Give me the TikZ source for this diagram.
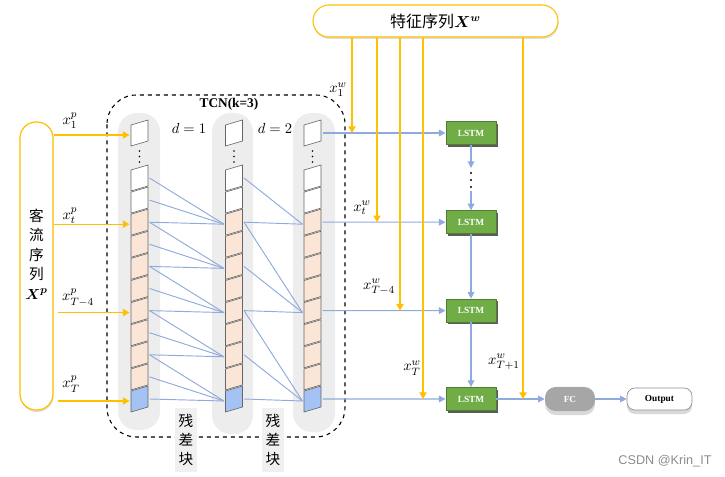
\documentclass[tikz,border=0pt]{standalone}
\usepackage{amsmath}
\usepackage{bm}
\usepackage{fontspec}
\setmainfont{Liberation Serif}
\setsansfont{Liberation Sans}
\newfontfamily\cjk{Noto Sans CJK SC}
\usetikzlibrary{arrows.meta,shadows,calc}
\definecolor{gold}{HTML}{FFC000}
\definecolor{lblue}{HTML}{8FAADC}
\definecolor{peach}{HTML}{FBE5D6}
\definecolor{cellblue}{HTML}{A4C2F4}
\definecolor{lstmgreen}{HTML}{70AD47}
\definecolor{lstmborder}{HTML}{507E32}
\definecolor{fcgray}{HTML}{A6A6A6}
\newcommand{\tcncell}[4]{%
  \filldraw[cellsty, fill=#3] ({#1-8.5},{#2-8}) -- ({#1+8.5},{#2-13}) -- ({#1+8.5},{#2+8}) -- ({#1-8.5},{#2+13}) -- cycle;
  \coordinate (#4-L) at ({#1-10},{#2+2});
  \coordinate (#4-R) at ({#1+10},{#2});
}
\begin{document}
\begin{tikzpicture}[x=0.75pt,y=-0.75pt,
  every node/.style={inner sep=0pt},
  lab/.style={font=\fontsize{11}{13}\selectfont},
  conn/.style={draw=lblue, line width=0.7pt},
  barrow/.style={draw=lblue, line width=0.8pt, -{Triangle[width=5pt,length=5pt]}},
  yarrow/.style={draw=gold, line width=0.9pt, -{Triangle[width=5.5pt,length=5pt]}},
  cellsty/.style={draw=black!60, line width=0.45pt},
  colbg/.style={fill=black!7, rounded corners=14pt},
  pill/.style={draw=gold, line width=0.9pt, fill=white, rounded corners=12pt,
    drop shadow={shadow xshift=0.4pt, shadow yshift=-1.5pt, opacity=0.25}},
  lstm/.style={draw=lstmborder, line width=0.6pt, fill=lstmgreen, minimum width=37.5pt, minimum height=17.25pt,
    font=\fontsize{7}{8}\selectfont\bfseries, text=white,
    drop shadow={shadow xshift=1.2pt, shadow yshift=-1.6pt, opacity=0.85, fill=black!75}},
  resbox/.style={fill=black!6, minimum width=17pt, minimum height=48pt, align=center,
    font=\cjk\fontsize{11}{14}\selectfont},
]
\useasboundingbox (0,0) rectangle (725,477);

% gray column backgrounds
\fill[colbg] (118,113) rectangle (160,430);
\fill[colbg] (212,113) rectangle (253,434);
\fill[colbg] (293,113) rectangle (335,432);

% TCN dashed box
\draw[dashed, line width=0.8pt, rounded corners=22pt] (107,95) rectangle (345,437);
\node[font=\bfseries\fontsize{10}{12}\selectfont] (tcn) at (229,104) {TCN(k=3)};
\node[lab] (d1) at (189,128) {$d=1$};
\node[lab] (d2) at (275,128) {$d=2$};

% residual labels
\node[resbox] (r1) at (186,440) {残\\差\\块};
\node[resbox] (r2) at (273,440) {残\\差\\块};

% cells
\foreach \col/\cx in {a/139.5, b/234, c/312.5} {
  \tcncell{\cx}{133}{white}{\col-t}
  \foreach \dy in {151,156.5,162} \fill[black] (\cx,\dy) circle (0.7pt);
  \foreach \i in {0,...,10} {
    \pgfmathsetmacro\cy{178+22.1*\i}
    \ifnum\i<2 \def\cf{white}\else\ifnum\i<10 \def\cf{peach}\else\def\cf{cellblue}\fi\fi
    \tcncell{\cx}{\cy}{\cf}{\col-\i}
  }
}

% dilated connections
\foreach \j in {2,4,6,8,10} {
  \foreach \k in {0,1,2} {
    \pgfmathtruncatemacro\s{\j-\k}
    \draw[conn] (a-\s-R) -- (b-\j-L);
  }
}
\foreach \j/\s in {2/0,2/2,6/2,6/4,6/6,10/6,10/8,10/10}
  \draw[conn] (b-\s-R) -- (c-\j-L);

% left input pill
\node[pill, minimum width=24.75pt, minimum height=216pt] (pp) at (36.5,266) {};
\node[font=\cjk\fontsize{11}{14.6}\selectfont, align=center] (pptext) at (36.5,254)
  {客\\流\\序\\列\\$\bm{X}^{\bm{p}}$};

% top feature pill
\node[pill, line width=0.8pt, minimum width=183.75pt, minimum height=24pt] (feat) at (435.5,21)
  {\cjk\fontsize{12}{14}\selectfont 特征序列$\bm{X}^{\bm{w}}$};

% LSTM, FC, Output
\node[lstm] (L1) at (471,133) {LSTM};
\node[lstm] (L2) at (471,222.2) {LSTM};
\node[lstm] (L3) at (471,310.6) {LSTM};
\node[lstm] (L4) at (471,399) {LSTM};
\node[fill=fcgray, rounded corners=8pt, minimum width=37.5pt, minimum height=18pt,
  font=\fontsize{7}{8}\selectfont\bfseries, text=white,
  drop shadow={shadow xshift=0pt, shadow yshift=-3pt, opacity=0.3}] (fc) at (570,399) {FC};
\node[draw=black!45, line width=0.5pt, fill=white, rounded corners=6pt, minimum width=48.75pt, minimum height=16.5pt,
  font=\fontsize{7}{8}\selectfont\bfseries,
  drop shadow={shadow xshift=0pt, shadow yshift=-3pt, opacity=0.3}] (out) at (659.5,399) {Output};

% TCN outputs to LSTM
\draw[barrow] (c-t-R) -- (L1.west);
\draw[barrow] (c-2-R) -- (L2.west);
\draw[barrow] (c-6-R) -- (L3.west);
\draw[barrow] (c-10-R) -- (L4.west);

% LSTM chain
\coordinate (ld1) at (471,168);
\coordinate (ld2) at (471,191);
\draw[barrow] (L1.south) -- (ld1);
\foreach \dy in {173,180,187} \fill[black] (471,\dy) circle (0.8pt);
\draw[barrow] (ld2) -- (L2.north);
\draw[barrow] (L2.south) -- (L3.north);
\draw[barrow] (L3.south) -- (L4.north);
\draw[barrow] (L4.east) -- (fc.west);
\draw[barrow] (fc.east) -- (out.west);

% x^p inputs
\draw[yarrow] (pp.east |- a-t-L) -- (a-t-L);
\draw[yarrow] (pp.east |- a-2-L) -- (a-2-L);
\draw[yarrow] ([xshift=3pt]pp.east |- a-6-L) -- (a-6-L);
\draw[yarrow] ([xshift=3pt]pp.east |- a-10-L) -- (a-10-L);
\node[lab] (xp1) at (70,121) {$x_1^p$};
\node[lab] (xpt) at (70,216) {$x_t^p$};
\node[lab] (xp4) at (78,298) {$x_{T-4}^p$};
\node[lab] (xpT) at (71,384) {$x_T^p$};

% x^w inputs
\coordinate (w1) at (352,133);
\coordinate (wt) at (377,222.2);
\coordinate (w4) at (400,310.6);
\coordinate (wT) at (423,399);
\coordinate (wT1) at (523,399);
\foreach \w in {w1,wt,w4,wT,wT1} \draw[yarrow] (feat.south -| \w) -- (\w);
\node[lab] (xw1) at (338,90) {$x_1^w$};
\node[lab] (xwt) at (362,208) {$x_t^w$};
\node[lab] (xw4) at (379,287) {$x_{T-4}^w$};
\node[lab] (xwT) at (412,368) {$x_T^w$};
\node[lab] (xwT1) at (504,362) {$x_{T+1}^w$};

% watermark
\node[font=\sffamily\fontsize{9.5}{11}\selectfont, text=black!45] (wm) at (665,461) {CSDN @Krin\_IT};
\end{tikzpicture}
\end{document}
